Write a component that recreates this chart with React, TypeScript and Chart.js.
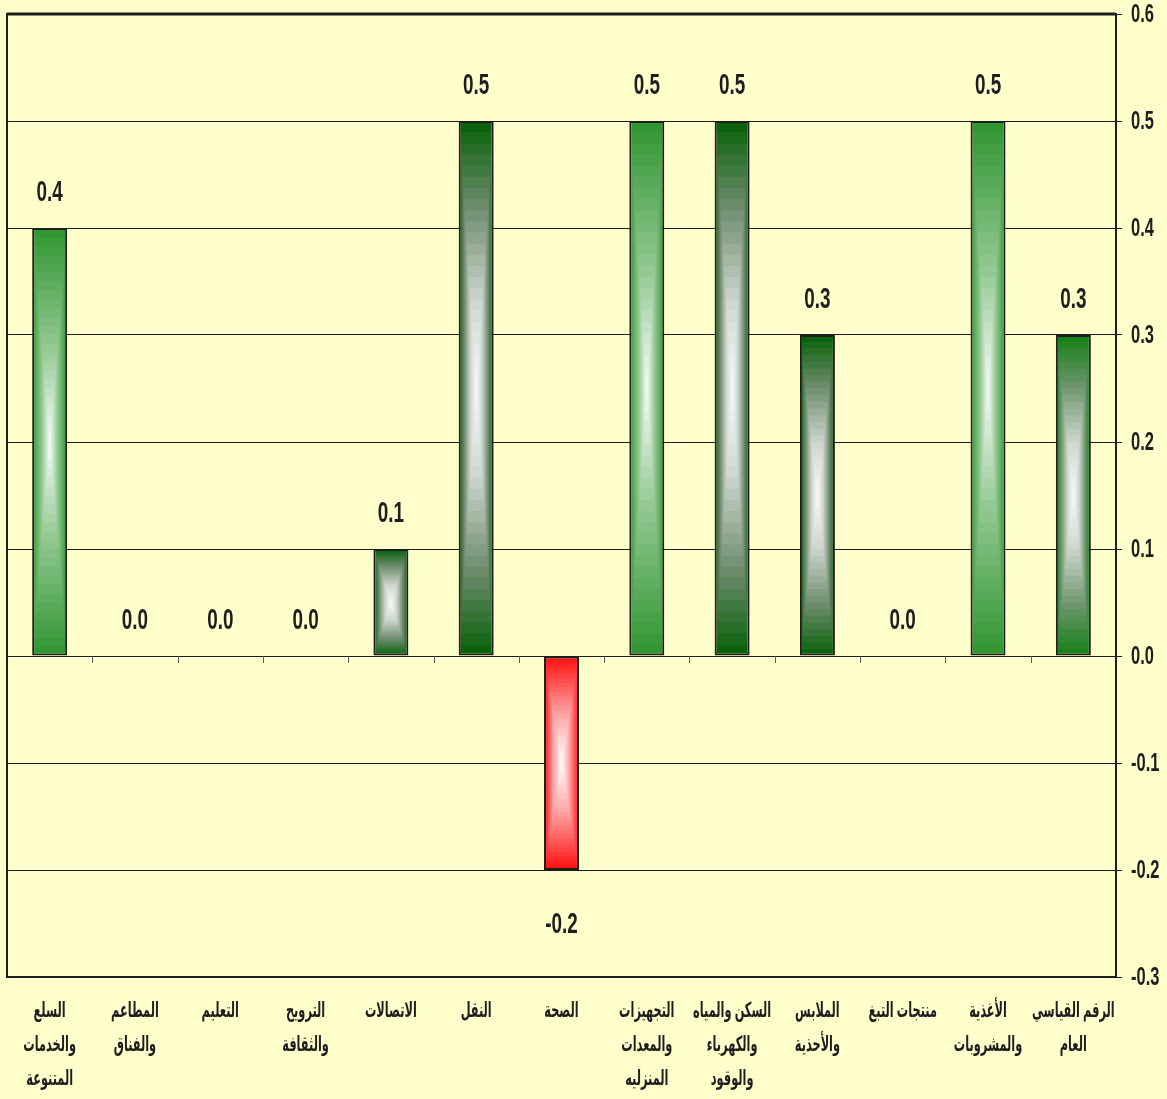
import React, { useEffect, useRef } from "react";
import { Chart, registerables } from "chart.js";

Chart.register(...registerables);

const categories: string[][] = [
  ["السلع", "والخدمات", "المتنوعة"],
  ["المطاعم", "والفناق"],
  ["التعليم"],
  ["الترويح", "والثقافة"],
  ["الاتصالات"],
  ["النقل"],
  ["الصحة"],
  ["التجهيزات", "والمعدات", "المنزليه"],
  ["السكن والمياه", "والكهرباء", "والوقود"],
  ["الملابس", "والأحذية"],
  ["منتجات التبغ"],
  ["الأغذية", "والمشروبات"],
  ["الرقم القياسي", "العام"],
];

const values: number[] = [0.4, 0.0, 0.0, 0.0, 0.1, 0.5, -0.2, 0.5, 0.5, 0.3, 0.0, 0.5, 0.3];

const yMin = -0.3;
const yMax = 0.6;
const yStep = 0.1;

// fill style of each bar (visual only)
const fillKinds: string[] = [
  "green", "none", "none", "none", "dark", "dark", "red", "green", "dark", "dark", "none", "green", "dark2",
];

const BG = "#FFFFCC";
const INK = "#1e1e1e";
const FONT = '"Liberation Sans", Arial, "DejaVu Sans", sans-serif';

// ramps from the centre (t=0) to the edge (t=1) of each bar
const ramps: Record<string, [number, number[]][]> = {
  green: [
    [0, [252, 254, 252]],
    [0.45, [150, 202, 150]],
    [1, [50, 150, 50]],
  ],
  dark: [
    [0, [252, 252, 252]],
    [0.35, [205, 213, 205]],
    [0.7, [110, 140, 110]],
    [1, [12, 98, 12]],
  ],
  dark2: [
    [0, [252, 252, 252]],
    [0.35, [205, 215, 205]],
    [0.7, [110, 150, 110]],
    [1, [25, 128, 25]],
  ],
  red: [
    [0, [255, 255, 255]],
    [0.45, [255, 170, 170]],
    [1, [255, 20, 20]],
  ],
};

const solidOf: Record<string, string> = {
  green: "#339933",
  dark: "#1f6a1f",
  dark2: "#1f801f",
  red: "#ff3030",
};

function rampColor(stops: [number, number[]][], t: number) {
  for (let i = 1; i < stops.length; i++) {
    const [t1, c1] = stops[i];
    const [t0, c0] = stops[i - 1];
    if (t <= t1) {
      const u = (t - t0) / (t1 - t0 || 1);
      return `rgb(${Math.round(c0[0] + (c1[0] - c0[0]) * u)},${Math.round(c0[1] + (c1[1] - c0[1]) * u)},${Math.round(
        c0[2] + (c1[2] - c0[2]) * u
      )})`;
    }
  }
  const c = stops[stops.length - 1][1];
  return `rgb(${c[0]},${c[1]},${c[2]})`;
}

function boxPattern(ctx: CanvasRenderingContext2D, kind: string, x0: number, y0: number, w: number, h: number) {
  const off = document.createElement("canvas");
  off.width = Math.max(1, Math.round(w));
  off.height = Math.max(1, Math.round(h));
  const c = off.getContext("2d")!;
  const steps = 24;
  for (let k = steps; k >= 1; k--) {
    const s = k / steps;
    c.fillStyle = rampColor(ramps[kind], s);
    const rw = off.width * s;
    const rh = off.height * s;
    c.fillRect((off.width - rw) / 2, (off.height - rh) / 2, rw, rh);
  }
  const p = ctx.createPattern(off, "no-repeat");
  if (!p) return solidOf[kind];
  p.setTransform(new DOMMatrix([1, 0, 0, 1, x0, y0]));
  return p;
}

const BAR_PCT = 0.41;

function squeezedText(ctx: CanvasRenderingContext2D, txt: string, x: number, y: number, sx: number) {
  ctx.save();
  ctx.translate(x, y);
  ctx.scale(sx, 1);
  ctx.fillText(txt, 0, 0);
  ctx.restore();
}

const decorPlugin = {
  id: "decor",
  beforeDatasetsDraw(chart: any) {
    const { ctx, chartArea } = chart;
    const xs = chart.scales.x;
    const ys = chart.scales.y;
    ctx.save();
    const y0 = ys.getPixelForValue(0);
    const catW = (xs.right - xs.left) / categories.length;
    ctx.strokeStyle = "#555";
    ctx.lineWidth = 1;
    for (let i = 1; i < categories.length; i++) {
      const x = Math.round(xs.left + i * catW) + 0.5;
      ctx.beginPath();
      ctx.moveTo(x, y0);
      ctx.lineTo(x, y0 + 7);
      ctx.stroke();
    }
    ctx.strokeStyle = INK;
    ctx.lineWidth = 2;
    ctx.strokeRect(chartArea.left, chartArea.top, chartArea.right - chartArea.left, chartArea.bottom - chartArea.top);
    ctx.lineWidth = 3;
    ctx.beginPath();
    ctx.moveTo(chartArea.left, chartArea.top);
    ctx.lineTo(chartArea.right, chartArea.top);
    ctx.stroke();
    ctx.restore();
  },
  afterDatasetsDraw(chart: any) {
    const { ctx, chartArea } = chart;
    const xs = chart.scales.x;
    const ys = chart.scales.y;
    const meta = chart.getDatasetMeta(0);
    ctx.save();
    ctx.fillStyle = INK;

    // value labels
    ctx.font = `bold 30px ${FONT}`;
    ctx.textAlign = "center";
    ctx.textBaseline = "middle";
    meta.data.forEach((el: any, i: number) => {
      const v = values[i];
      const y = v < 0 ? el.y + 55 : el.y - 35;
      squeezedText(ctx, v.toFixed(1), el.x, y, 0.63);
    });

    // y tick labels (right side)
    ctx.font = `bold 25px ${FONT}`;
    ctx.textAlign = "left";
    ctx.textBaseline = "middle";
    ys.ticks.forEach((t: any) => {
      const y = ys.getPixelForValue(t.value);
      squeezedText(ctx, Number(t.value).toFixed(1), chartArea.right + 15, y + 1, 0.66);
    });

    // category labels
    ctx.font = `bold 21px ${FONT}`;
    ctx.textAlign = "center";
    ctx.textBaseline = "alphabetic";
    categories.forEach((lines, i) => {
      const x = xs.getPixelForValue(i);
      lines.forEach((ln, j) => {
        squeezedText(ctx, ln, x, chartArea.bottom + 40 + j * 34, 0.54);
      });
    });
    ctx.restore();
  },
};

export default function App() {
  const ref = useRef<HTMLCanvasElement | null>(null);

  useEffect(() => {
    if (!ref.current) return;
    const chart = new Chart(ref.current, {
      type: "bar",
      data: {
        labels: categories,
        datasets: [
          {
            data: values,
            barPercentage: BAR_PCT,
            categoryPercentage: 1,
            borderColor: INK,
            borderWidth: (c: any) => (c.raw === 0 ? 0 : 2),
            borderSkipped: false,
            backgroundColor: (c: any) => {
              if (c.type !== "data") return "transparent";
              const ch = c.chart;
              const xs = ch.scales.x;
              const ys = ch.scales.y;
              const kind = fillKinds[c.dataIndex];
              if (kind === "none") return "transparent";
              if (!xs || !ys) return solidOf[kind];
              const v = c.raw as number;
              const top = ys.getPixelForValue(Math.max(v, 0));
              const bot = ys.getPixelForValue(Math.min(v, 0));
              const catW = (xs.right - xs.left) / categories.length;
              const w = catW * BAR_PCT;
              const cx = xs.getPixelForValue(c.dataIndex);
              if (![top, bot, w, cx].every((n) => isFinite(n)) || bot - top < 1 || w < 1) return solidOf[kind];
              return boxPattern(ch.ctx, kind, cx - w / 2, top, w, bot - top);
            },
          },
        ],
      },
      options: {
        animation: false,
        responsive: false,
        maintainAspectRatio: false,
        layout: { padding: { left: 7, top: 14, right: 0, bottom: 0 } },
        plugins: {
          legend: { display: false },
          tooltip: { enabled: false },
        },
        scales: {
          x: {
            grid: { display: false, drawTicks: false },
            border: { display: false },
            ticks: { display: false, autoSkip: false },
            afterFit: (s: any) => {
              s.height = 122;
              s.paddingLeft = 0;
              s.paddingRight = 0;
            },
          },
          y: {
            position: "right",
            min: yMin,
            max: yMax,
            ticks: {
              display: false,
              stepSize: yStep,
            },
            grid: { color: INK, lineWidth: 1, tickLength: 6, drawTicks: true },
            border: { display: true, color: INK, width: 2 },
            afterFit: (s: any) => {
              s.width = 51;
              s.paddingTop = 0;
              s.paddingBottom = 0;
            },
          },
        },
      },
      plugins: [decorPlugin],
    });
    return () => chart.destroy();
  }, []);

  return (
    <div style={{ position: "fixed", left: 0, top: 0, width: 1167, height: 1099, background: BG }}>
      <canvas ref={ref} width={1167} height={1099} style={{ display: "block", width: 1167, height: 1099 }} />
    </div>
  );
}
